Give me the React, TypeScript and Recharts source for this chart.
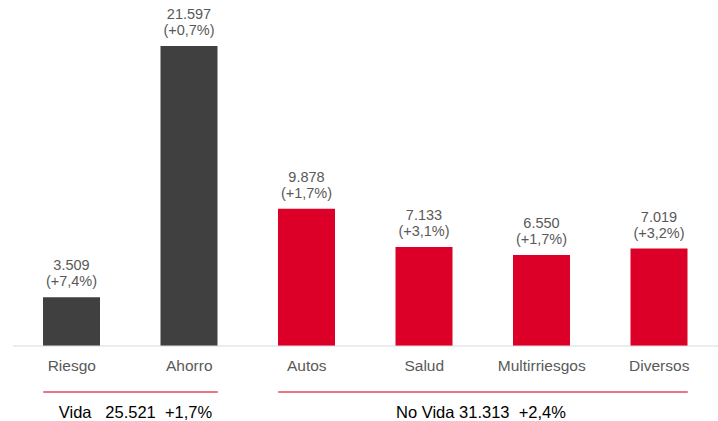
import React from 'react';
import { BarChart, Bar, XAxis, YAxis, Cell, LabelList } from 'recharts';

const categorias = ['Riesgo', 'Ahorro', 'Autos', 'Salud', 'Multirriesgos', 'Diversos'];
const primas = [3509, 21597, 9878, 7133, 6550, 7019];
const variaciones = ['+7,4%', '+0,7%', '+1,7%', '+3,1%', '+1,7%', '+3,2%'];
const grupoDeCategoria = ['Vida', 'Vida', 'No Vida', 'No Vida', 'No Vida', 'No Vida'];

const grupos = ['Vida', 'No Vida'];
const textosGrupo = ['Vida   25.521  +1,7%', 'No Vida 31.313  +2,4%'];

const coloresGrupo: Record<string, string> = { Vida: '#404040', 'No Vida': '#dc0028' };

const WIDTH = 718;
const HEIGHT = 421;
const MARGIN = { top: 46, right: 0, left: 13, bottom: 0 };
const BAR_SIZE = 57;
const STEP = (WIDTH - MARGIN.left - MARGIN.right) / categorias.length;

const fmt = (n: number) => String(n).replace(/\B(?=(\d{3})+(?!\d))/g, '.');

const data = categorias.map((c, i) => ({
  categoria: c,
  prima: primas[i],
  variacion: variaciones[i],
  grupo: grupoDeCategoria[i],
}));

const ValueLabel = (props: any) => {
  const { x, y, width, index } = props;
  const cx = x + width / 2;
  return (
    <g>
      <text x={cx} y={y - 27} textAnchor="middle" fill="#595959" fontSize={14.5}>
        {fmt(primas[index])}
      </text>
      <text x={cx} y={y - 11} textAnchor="middle" fill="#595959" fontSize={14.5}>
        ({variaciones[index]})
      </text>
    </g>
  );
};

const CategoryTick = (props: any) => {
  const { x, y, payload, index } = props;
  const grupo = grupoDeCategoria[index];
  const first = grupoDeCategoria.indexOf(grupo) === index;
  let extra = null;
  if (first) {
    const n = grupoDeCategoria.filter((g) => g === grupo).length;
    const gi = grupos.indexOf(grupo);
    const x1 = x - BAR_SIZE / 2;
    const x2 = x + (n - 1) * STEP + BAR_SIZE / 2;
    const center = x + ((n - 1) * STEP) / 2;
    extra = (
      <g>
        <line x1={x1} x2={x2} y1={y + 46} y2={y + 46} stroke="#e2455f" strokeWidth={1.5} />
        <text
          x={center + (gi === 0 ? 5 : -2)}
          y={y + 72}
          textAnchor="middle"
          fill="#000"
          fontSize={16.5}
          style={{ whiteSpace: 'pre' }}
        >
          {textosGrupo[gi]}
        </text>
      </g>
    );
  }
  return (
    <g>
      <text x={x} y={y + 25} textAnchor="middle" fill="#595959" fontSize={15.5}>
        {payload.value}
      </text>
      {extra}
    </g>
  );
};

export default function App() {
  return (
    <div style={{ position: 'absolute', left: 0, top: 0, fontFamily: '"Liberation Sans", Arial, sans-serif' }}>
      <BarChart width={WIDTH} height={HEIGHT} data={data} margin={MARGIN}>
        <XAxis
          dataKey="categoria"
          interval={0}
          height={HEIGHT - 346}
          tickSize={0}
          tickMargin={0}
          tickLine={false}
          axisLine={{ stroke: '#d9d9d9', strokeWidth: 1 }}
          tick={<CategoryTick />}
        />
        <YAxis hide domain={[0, 21597]} />
        <Bar dataKey="prima" barSize={BAR_SIZE} isAnimationActive={false}>
          {data.map((d, i) => (
            <Cell key={i} fill={coloresGrupo[d.grupo]} />
          ))}
          <LabelList dataKey="prima" content={<ValueLabel />} />
        </Bar>
      </BarChart>
    </div>
  );
}
